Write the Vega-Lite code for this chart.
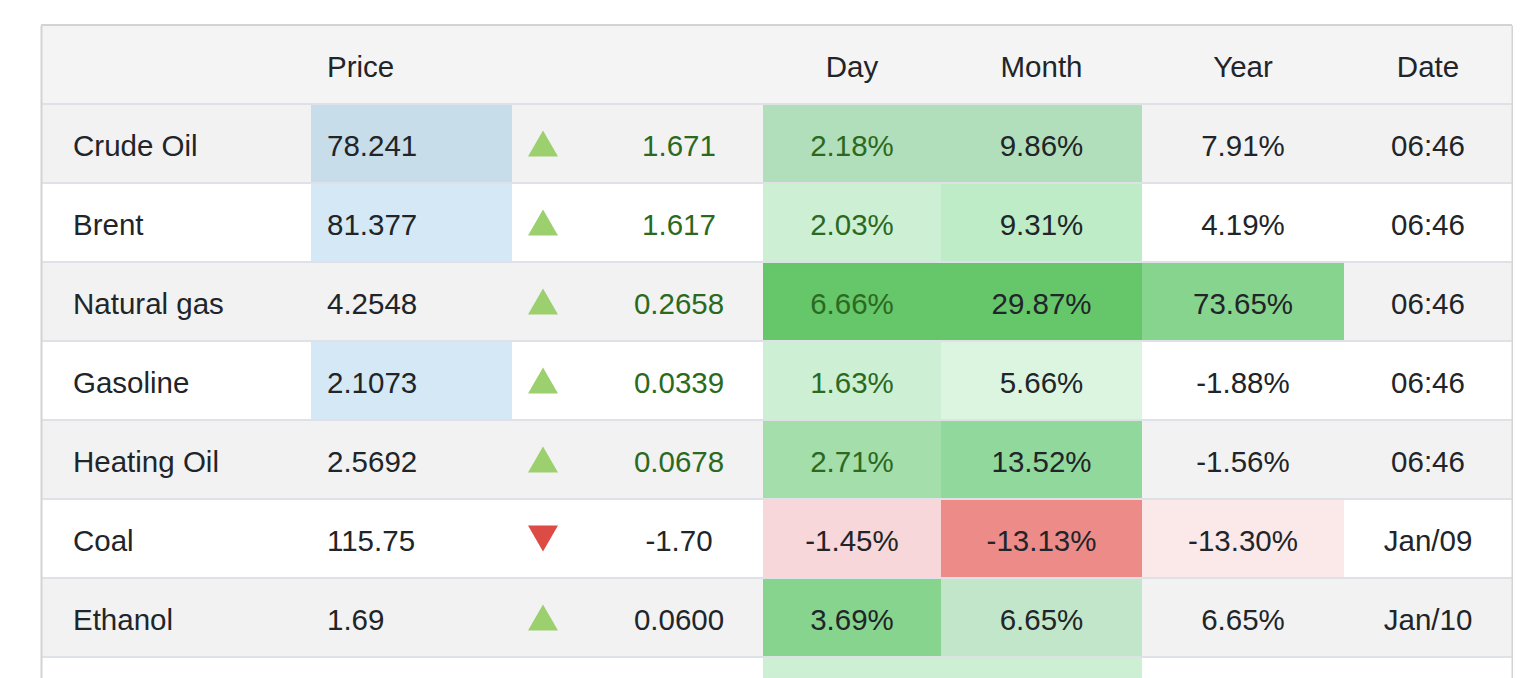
{
  "$schema": "https://vega.github.io/schema/vega-lite/v6.json",
  "background": "white",
  "padding": {"left": 40, "top": 24, "right": 0, "bottom": 0},
  "config": {"view": {"stroke": null}, "concat": {"spacing": 0}, "text": {"font": "Liberation Sans", "fontSize": 29.5, "baseline": "middle"}},
  "spacing": 0,
  "bounds": "flush",
  "datasets": {
    "t": [
      {"name": "", "price": "Price", "dir": null, "chg": "", "day": "Day", "month": "Month", "year": "Year", "date": "Date", "stripe": "hdr", "pS": "hdr", "dS": "hdr", "mS": "hdr", "yS": "hdr", "hl": "dk"},
      {"name": "Crude Oil", "price": "78.241", "dir": "up", "chg": "1.671", "day": "2.18%", "month": "9.86%", "year": "7.91%", "date": "06:46", "stripe": "g", "pS": "pi_g", "dS": "gA", "mS": "gA", "yS": "g", "hl": "up"},
      {"name": "Brent", "price": "81.377", "dir": "up", "chg": "1.617", "day": "2.03%", "month": "9.31%", "year": "4.19%", "date": "06:46", "stripe": "w", "pS": "pi_w", "dS": "gB", "mS": "gC", "yS": "w", "hl": "up"},
      {"name": "Natural gas", "price": "4.2548", "dir": "up", "chg": "0.2658", "day": "6.66%", "month": "29.87%", "year": "73.65%", "date": "06:46", "stripe": "g", "pS": "g", "dS": "gD", "mS": "gD", "yS": "gE", "hl": "up"},
      {"name": "Gasoline", "price": "2.1073", "dir": "up", "chg": "0.0339", "day": "1.63%", "month": "5.66%", "year": "-1.88%", "date": "06:46", "stripe": "w", "pS": "pi_w", "dS": "gB", "mS": "gF", "yS": "w", "hl": "up"},
      {"name": "Heating Oil", "price": "2.5692", "dir": "up", "chg": "0.0678", "day": "2.71%", "month": "13.52%", "year": "-1.56%", "date": "06:46", "stripe": "g", "pS": "g", "dS": "gG", "mS": "gH", "yS": "g", "hl": "up"},
      {"name": "Coal", "price": "115.75", "dir": "down", "chg": "-1.70", "day": "-1.45%", "month": "-13.13%", "year": "-13.30%", "date": "Jan/09", "stripe": "w", "pS": "w", "dS": "rA", "mS": "rB", "yS": "rC", "hl": "dk"},
      {"name": "Ethanol", "price": "1.69", "dir": "up", "chg": "0.0600", "day": "3.69%", "month": "6.65%", "year": "6.65%", "date": "Jan/10", "stripe": "g", "pS": "g", "dS": "gE", "mS": "gI", "yS": "g", "hl": "dk"}
    ]
  },
  "resolve": {"scale": {"y": "independent", "fill": "independent", "color": "independent", "shape": "independent"}},
  "hconcat": [
    {
      "width": 270, "height": 654, "data": {"name": "t"},
      "layer": [
        {"mark": {"type": "rect"}, "encoding": {
          "y": {"field": "name", "type": "nominal", "sort": null, "scale": {"domain": ["", "Crude Oil", "Brent", "Natural gas", "Gasoline", "Heating Oil", "Coal", "Ethanol"], "paddingInner": 0, "paddingOuter": 0.13924, "align": 0}, "axis": {"domain": true, "domainColor": "#d3d3d3", "domainWidth": 2, "labels": false, "ticks": false, "grid": false, "title": null}},
          "fill": {"field": "stripe", "type": "nominal", "scale": {"domain": ["hdr", "g", "w", "pi_g", "pi_w", "gA", "gB", "gC", "gD", "gE", "gF", "gG", "gH", "gI", "rA", "rB", "rC"], "range": ["#f4f4f4", "#f2f2f2", "#ffffff", "#c7dde9", "#d4e9f5", "#b2dfbb", "#cdf0d4", "#bdecc6", "#65c66a", "#87d48f", "#dcf5e1", "#a3deab", "#90d89b", "#c2e6c9", "#f7d7da", "#ed8b89", "#fbe9ea"]}, "legend": null}}},
        {"mark": {"type": "rule", "stroke": "#dee2e6", "strokeWidth": 2}, "encoding": {
          "y": {"field": "name", "type": "nominal", "sort": null, "bandPosition": 1, "scale": {"domain": ["", "Crude Oil", "Brent", "Natural gas", "Gasoline", "Heating Oil", "Coal", "Ethanol"], "paddingInner": 0, "paddingOuter": 0.13924, "align": 0}, "axis": {"domain": true, "domainColor": "#d3d3d3", "domainWidth": 2, "labels": false, "ticks": false, "grid": false, "title": null}}}},
        {"transform": [{"filter": "datum.name === ''"}], "mark": {"type": "rule", "stroke": "#d3d3d3", "strokeWidth": 2}, "encoding": {
          "y": {"field": "name", "type": "nominal", "sort": null, "bandPosition": 0, "scale": {"domain": ["", "Crude Oil", "Brent", "Natural gas", "Gasoline", "Heating Oil", "Coal", "Ethanol"], "paddingInner": 0, "paddingOuter": 0.13924, "align": 0}, "axis": {"domain": true, "domainColor": "#d3d3d3", "domainWidth": 2, "labels": false, "ticks": false, "grid": false, "title": null}}}},
        {"mark": {"type": "text", "align": "left", "dx": -103, "dy": 3, "fill": "#212529"}, "encoding": {
          "y": {"field": "name", "type": "nominal", "sort": null, "scale": {"domain": ["", "Crude Oil", "Brent", "Natural gas", "Gasoline", "Heating Oil", "Coal", "Ethanol"], "paddingInner": 0, "paddingOuter": 0.13924, "align": 0}, "axis": {"domain": true, "domainColor": "#d3d3d3", "domainWidth": 2, "labels": false, "ticks": false, "grid": false, "title": null}},
          "text": {"field": "name"}}}
      ]
    },
    {
      "width": 201, "height": 654, "data": {"name": "t"},
      "layer": [
        {"mark": {"type": "rect"}, "encoding": {
          "y": {"field": "name", "type": "nominal", "sort": null, "scale": {"domain": ["", "Crude Oil", "Brent", "Natural gas", "Gasoline", "Heating Oil", "Coal", "Ethanol"], "paddingInner": 0, "paddingOuter": 0.13924, "align": 0}, "axis": null},
          "fill": {"field": "pS", "type": "nominal", "scale": {"domain": ["hdr", "g", "w", "pi_g", "pi_w", "gA", "gB", "gC", "gD", "gE", "gF", "gG", "gH", "gI", "rA", "rB", "rC"], "range": ["#f4f4f4", "#f2f2f2", "#ffffff", "#c7dde9", "#d4e9f5", "#b2dfbb", "#cdf0d4", "#bdecc6", "#65c66a", "#87d48f", "#dcf5e1", "#a3deab", "#90d89b", "#c2e6c9", "#f7d7da", "#ed8b89", "#fbe9ea"]}, "legend": null}}},
        {"mark": {"type": "rule", "stroke": "#dee2e6", "strokeWidth": 2}, "encoding": {
          "y": {"field": "name", "type": "nominal", "sort": null, "bandPosition": 1, "scale": {"domain": ["", "Crude Oil", "Brent", "Natural gas", "Gasoline", "Heating Oil", "Coal", "Ethanol"], "paddingInner": 0, "paddingOuter": 0.13924, "align": 0}, "axis": null}}},
        {"transform": [{"filter": "datum.name === ''"}], "mark": {"type": "rule", "stroke": "#d3d3d3", "strokeWidth": 2}, "encoding": {
          "y": {"field": "name", "type": "nominal", "sort": null, "bandPosition": 0, "scale": {"domain": ["", "Crude Oil", "Brent", "Natural gas", "Gasoline", "Heating Oil", "Coal", "Ethanol"], "paddingInner": 0, "paddingOuter": 0.13924, "align": 0}, "axis": null}}},
        {"mark": {"type": "text", "align": "left", "dx": -84.5, "dy": 3, "fill": "#212529"}, "encoding": {
          "y": {"field": "name", "type": "nominal", "sort": null, "scale": {"domain": ["", "Crude Oil", "Brent", "Natural gas", "Gasoline", "Heating Oil", "Coal", "Ethanol"], "paddingInner": 0, "paddingOuter": 0.13924, "align": 0}, "axis": null},
          "text": {"field": "price"}}}
      ]
    },
    {
      "width": 62, "height": 654, "data": {"name": "t"},
      "layer": [
        {"mark": {"type": "rect"}, "encoding": {
          "y": {"field": "name", "type": "nominal", "sort": null, "scale": {"domain": ["", "Crude Oil", "Brent", "Natural gas", "Gasoline", "Heating Oil", "Coal", "Ethanol"], "paddingInner": 0, "paddingOuter": 0.13924, "align": 0}, "axis": null},
          "fill": {"field": "stripe", "type": "nominal", "scale": {"domain": ["hdr", "g", "w", "pi_g", "pi_w", "gA", "gB", "gC", "gD", "gE", "gF", "gG", "gH", "gI", "rA", "rB", "rC"], "range": ["#f4f4f4", "#f2f2f2", "#ffffff", "#c7dde9", "#d4e9f5", "#b2dfbb", "#cdf0d4", "#bdecc6", "#65c66a", "#87d48f", "#dcf5e1", "#a3deab", "#90d89b", "#c2e6c9", "#f7d7da", "#ed8b89", "#fbe9ea"]}, "legend": null}}},
        {"mark": {"type": "rule", "stroke": "#dee2e6", "strokeWidth": 2}, "encoding": {
          "y": {"field": "name", "type": "nominal", "sort": null, "bandPosition": 1, "scale": {"domain": ["", "Crude Oil", "Brent", "Natural gas", "Gasoline", "Heating Oil", "Coal", "Ethanol"], "paddingInner": 0, "paddingOuter": 0.13924, "align": 0}, "axis": null}}},
        {"transform": [{"filter": "datum.name === ''"}], "mark": {"type": "rule", "stroke": "#d3d3d3", "strokeWidth": 2}, "encoding": {
          "y": {"field": "name", "type": "nominal", "sort": null, "bandPosition": 0, "scale": {"domain": ["", "Crude Oil", "Brent", "Natural gas", "Gasoline", "Heating Oil", "Coal", "Ethanol"], "paddingInner": 0, "paddingOuter": 0.13924, "align": 0}, "axis": null}}},
        {"transform": [{"filter": "datum.dir != null"}], "mark": {"type": "point", "filled": true, "size": 900, "opacity": 1, "strokeWidth": 0}, "encoding": {
          "y": {"field": "name", "type": "nominal", "sort": null, "scale": {"domain": ["", "Crude Oil", "Brent", "Natural gas", "Gasoline", "Heating Oil", "Coal", "Ethanol"], "paddingInner": 0, "paddingOuter": 0.13924, "align": 0}, "axis": null},
          "shape": {"field": "dir", "type": "nominal", "scale": {"domain": ["up", "down"], "range": ["triangle-up", "triangle-down"]}, "legend": null},
          "color": {"field": "dir", "type": "nominal", "scale": {"domain": ["up", "down"], "range": ["#9ccf6e", "#dc4b44"]}, "legend": null}}}
      ]
    },
    {
      "width": 189, "height": 654, "data": {"name": "t"},
      "layer": [
        {"mark": {"type": "rect"}, "encoding": {
          "y": {"field": "name", "type": "nominal", "sort": null, "scale": {"domain": ["", "Crude Oil", "Brent", "Natural gas", "Gasoline", "Heating Oil", "Coal", "Ethanol"], "paddingInner": 0, "paddingOuter": 0.13924, "align": 0}, "axis": null},
          "fill": {"field": "stripe", "type": "nominal", "scale": {"domain": ["hdr", "g", "w", "pi_g", "pi_w", "gA", "gB", "gC", "gD", "gE", "gF", "gG", "gH", "gI", "rA", "rB", "rC"], "range": ["#f4f4f4", "#f2f2f2", "#ffffff", "#c7dde9", "#d4e9f5", "#b2dfbb", "#cdf0d4", "#bdecc6", "#65c66a", "#87d48f", "#dcf5e1", "#a3deab", "#90d89b", "#c2e6c9", "#f7d7da", "#ed8b89", "#fbe9ea"]}, "legend": null}}},
        {"mark": {"type": "rule", "stroke": "#dee2e6", "strokeWidth": 2}, "encoding": {
          "y": {"field": "name", "type": "nominal", "sort": null, "bandPosition": 1, "scale": {"domain": ["", "Crude Oil", "Brent", "Natural gas", "Gasoline", "Heating Oil", "Coal", "Ethanol"], "paddingInner": 0, "paddingOuter": 0.13924, "align": 0}, "axis": null}}},
        {"transform": [{"filter": "datum.name === ''"}], "mark": {"type": "rule", "stroke": "#d3d3d3", "strokeWidth": 2}, "encoding": {
          "y": {"field": "name", "type": "nominal", "sort": null, "bandPosition": 0, "scale": {"domain": ["", "Crude Oil", "Brent", "Natural gas", "Gasoline", "Heating Oil", "Coal", "Ethanol"], "paddingInner": 0, "paddingOuter": 0.13924, "align": 0}, "axis": null}}},
        {"mark": {"type": "text", "align": "center", "dx": 10.5, "dy": 3}, "encoding": {
          "y": {"field": "name", "type": "nominal", "sort": null, "scale": {"domain": ["", "Crude Oil", "Brent", "Natural gas", "Gasoline", "Heating Oil", "Coal", "Ethanol"], "paddingInner": 0, "paddingOuter": 0.13924, "align": 0}, "axis": null},
          "text": {"field": "chg"},
          "color": {"field": "hl", "type": "nominal", "scale": {"domain": ["up", "dk"], "range": ["#2b6a1e", "#212529"]}, "legend": null}}}
      ]
    },
    {
      "width": 178, "height": 654, "data": {"name": "t"}, "view": {"fill": "#cdf0d4", "stroke": null},
      "layer": [
        {"mark": {"type": "rect"}, "encoding": {
          "y": {"field": "name", "type": "nominal", "sort": null, "scale": {"domain": ["", "Crude Oil", "Brent", "Natural gas", "Gasoline", "Heating Oil", "Coal", "Ethanol"], "paddingInner": 0, "paddingOuter": 0.13924, "align": 0}, "axis": null},
          "fill": {"field": "dS", "type": "nominal", "scale": {"domain": ["hdr", "g", "w", "pi_g", "pi_w", "gA", "gB", "gC", "gD", "gE", "gF", "gG", "gH", "gI", "rA", "rB", "rC"], "range": ["#f4f4f4", "#f2f2f2", "#ffffff", "#c7dde9", "#d4e9f5", "#b2dfbb", "#cdf0d4", "#bdecc6", "#65c66a", "#87d48f", "#dcf5e1", "#a3deab", "#90d89b", "#c2e6c9", "#f7d7da", "#ed8b89", "#fbe9ea"]}, "legend": null}}},
        {"mark": {"type": "rule", "stroke": "#dee2e6", "strokeWidth": 2}, "encoding": {
          "y": {"field": "name", "type": "nominal", "sort": null, "bandPosition": 1, "scale": {"domain": ["", "Crude Oil", "Brent", "Natural gas", "Gasoline", "Heating Oil", "Coal", "Ethanol"], "paddingInner": 0, "paddingOuter": 0.13924, "align": 0}, "axis": null}}},
        {"transform": [{"filter": "datum.name === ''"}], "mark": {"type": "rule", "stroke": "#d3d3d3", "strokeWidth": 2}, "encoding": {
          "y": {"field": "name", "type": "nominal", "sort": null, "bandPosition": 0, "scale": {"domain": ["", "Crude Oil", "Brent", "Natural gas", "Gasoline", "Heating Oil", "Coal", "Ethanol"], "paddingInner": 0, "paddingOuter": 0.13924, "align": 0}, "axis": null}}},
        {"mark": {"type": "text", "align": "center", "dy": 3}, "encoding": {
          "y": {"field": "name", "type": "nominal", "sort": null, "scale": {"domain": ["", "Crude Oil", "Brent", "Natural gas", "Gasoline", "Heating Oil", "Coal", "Ethanol"], "paddingInner": 0, "paddingOuter": 0.13924, "align": 0}, "axis": null},
          "text": {"field": "day"},
          "color": {"field": "hl", "type": "nominal", "scale": {"domain": ["up", "dk"], "range": ["#2b6a1e", "#212529"]}, "legend": null}}}
      ]
    },
    {
      "width": 201, "height": 654, "data": {"name": "t"}, "view": {"fill": "#cdf0d4", "stroke": null},
      "layer": [
        {"mark": {"type": "rect"}, "encoding": {
          "y": {"field": "name", "type": "nominal", "sort": null, "scale": {"domain": ["", "Crude Oil", "Brent", "Natural gas", "Gasoline", "Heating Oil", "Coal", "Ethanol"], "paddingInner": 0, "paddingOuter": 0.13924, "align": 0}, "axis": null},
          "fill": {"field": "mS", "type": "nominal", "scale": {"domain": ["hdr", "g", "w", "pi_g", "pi_w", "gA", "gB", "gC", "gD", "gE", "gF", "gG", "gH", "gI", "rA", "rB", "rC"], "range": ["#f4f4f4", "#f2f2f2", "#ffffff", "#c7dde9", "#d4e9f5", "#b2dfbb", "#cdf0d4", "#bdecc6", "#65c66a", "#87d48f", "#dcf5e1", "#a3deab", "#90d89b", "#c2e6c9", "#f7d7da", "#ed8b89", "#fbe9ea"]}, "legend": null}}},
        {"mark": {"type": "rule", "stroke": "#dee2e6", "strokeWidth": 2}, "encoding": {
          "y": {"field": "name", "type": "nominal", "sort": null, "bandPosition": 1, "scale": {"domain": ["", "Crude Oil", "Brent", "Natural gas", "Gasoline", "Heating Oil", "Coal", "Ethanol"], "paddingInner": 0, "paddingOuter": 0.13924, "align": 0}, "axis": null}}},
        {"transform": [{"filter": "datum.name === ''"}], "mark": {"type": "rule", "stroke": "#d3d3d3", "strokeWidth": 2}, "encoding": {
          "y": {"field": "name", "type": "nominal", "sort": null, "bandPosition": 0, "scale": {"domain": ["", "Crude Oil", "Brent", "Natural gas", "Gasoline", "Heating Oil", "Coal", "Ethanol"], "paddingInner": 0, "paddingOuter": 0.13924, "align": 0}, "axis": null}}},
        {"mark": {"type": "text", "align": "center", "dy": 3, "fill": "#212529"}, "encoding": {
          "y": {"field": "name", "type": "nominal", "sort": null, "scale": {"domain": ["", "Crude Oil", "Brent", "Natural gas", "Gasoline", "Heating Oil", "Coal", "Ethanol"], "paddingInner": 0, "paddingOuter": 0.13924, "align": 0}, "axis": null},
          "text": {"field": "month"}}}
      ]
    },
    {
      "width": 202, "height": 654, "data": {"name": "t"},
      "layer": [
        {"mark": {"type": "rect"}, "encoding": {
          "y": {"field": "name", "type": "nominal", "sort": null, "scale": {"domain": ["", "Crude Oil", "Brent", "Natural gas", "Gasoline", "Heating Oil", "Coal", "Ethanol"], "paddingInner": 0, "paddingOuter": 0.13924, "align": 0}, "axis": null},
          "fill": {"field": "yS", "type": "nominal", "scale": {"domain": ["hdr", "g", "w", "pi_g", "pi_w", "gA", "gB", "gC", "gD", "gE", "gF", "gG", "gH", "gI", "rA", "rB", "rC"], "range": ["#f4f4f4", "#f2f2f2", "#ffffff", "#c7dde9", "#d4e9f5", "#b2dfbb", "#cdf0d4", "#bdecc6", "#65c66a", "#87d48f", "#dcf5e1", "#a3deab", "#90d89b", "#c2e6c9", "#f7d7da", "#ed8b89", "#fbe9ea"]}, "legend": null}}},
        {"mark": {"type": "rule", "stroke": "#dee2e6", "strokeWidth": 2}, "encoding": {
          "y": {"field": "name", "type": "nominal", "sort": null, "bandPosition": 1, "scale": {"domain": ["", "Crude Oil", "Brent", "Natural gas", "Gasoline", "Heating Oil", "Coal", "Ethanol"], "paddingInner": 0, "paddingOuter": 0.13924, "align": 0}, "axis": null}}},
        {"transform": [{"filter": "datum.name === ''"}], "mark": {"type": "rule", "stroke": "#d3d3d3", "strokeWidth": 2}, "encoding": {
          "y": {"field": "name", "type": "nominal", "sort": null, "bandPosition": 0, "scale": {"domain": ["", "Crude Oil", "Brent", "Natural gas", "Gasoline", "Heating Oil", "Coal", "Ethanol"], "paddingInner": 0, "paddingOuter": 0.13924, "align": 0}, "axis": null}}},
        {"mark": {"type": "text", "align": "center", "dy": 3, "fill": "#212529"}, "encoding": {
          "y": {"field": "name", "type": "nominal", "sort": null, "scale": {"domain": ["", "Crude Oil", "Brent", "Natural gas", "Gasoline", "Heating Oil", "Coal", "Ethanol"], "paddingInner": 0, "paddingOuter": 0.13924, "align": 0}, "axis": null},
          "text": {"field": "year"}}}
      ]
    },
    {
      "width": 168, "height": 654, "data": {"name": "t"},
      "layer": [
        {"mark": {"type": "rect"}, "encoding": {
          "y": {"field": "name", "type": "nominal", "sort": null, "scale": {"domain": ["", "Crude Oil", "Brent", "Natural gas", "Gasoline", "Heating Oil", "Coal", "Ethanol"], "paddingInner": 0, "paddingOuter": 0.13924, "align": 0}, "axis": {"orient": "right", "domain": true, "domainColor": "#d3d3d3", "domainWidth": 2, "labels": false, "ticks": false, "grid": false, "title": null}},
          "fill": {"field": "stripe", "type": "nominal", "scale": {"domain": ["hdr", "g", "w", "pi_g", "pi_w", "gA", "gB", "gC", "gD", "gE", "gF", "gG", "gH", "gI", "rA", "rB", "rC"], "range": ["#f4f4f4", "#f2f2f2", "#ffffff", "#c7dde9", "#d4e9f5", "#b2dfbb", "#cdf0d4", "#bdecc6", "#65c66a", "#87d48f", "#dcf5e1", "#a3deab", "#90d89b", "#c2e6c9", "#f7d7da", "#ed8b89", "#fbe9ea"]}, "legend": null}}},
        {"mark": {"type": "rule", "stroke": "#dee2e6", "strokeWidth": 2}, "encoding": {
          "y": {"field": "name", "type": "nominal", "sort": null, "bandPosition": 1, "scale": {"domain": ["", "Crude Oil", "Brent", "Natural gas", "Gasoline", "Heating Oil", "Coal", "Ethanol"], "paddingInner": 0, "paddingOuter": 0.13924, "align": 0}, "axis": {"orient": "right", "domain": true, "domainColor": "#d3d3d3", "domainWidth": 2, "labels": false, "ticks": false, "grid": false, "title": null}}}},
        {"transform": [{"filter": "datum.name === ''"}], "mark": {"type": "rule", "stroke": "#d3d3d3", "strokeWidth": 2}, "encoding": {
          "y": {"field": "name", "type": "nominal", "sort": null, "bandPosition": 0, "scale": {"domain": ["", "Crude Oil", "Brent", "Natural gas", "Gasoline", "Heating Oil", "Coal", "Ethanol"], "paddingInner": 0, "paddingOuter": 0.13924, "align": 0}, "axis": {"orient": "right", "domain": true, "domainColor": "#d3d3d3", "domainWidth": 2, "labels": false, "ticks": false, "grid": false, "title": null}}}},
        {"mark": {"type": "text", "align": "center", "dy": 3, "fill": "#212529"}, "encoding": {
          "y": {"field": "name", "type": "nominal", "sort": null, "scale": {"domain": ["", "Crude Oil", "Brent", "Natural gas", "Gasoline", "Heating Oil", "Coal", "Ethanol"], "paddingInner": 0, "paddingOuter": 0.13924, "align": 0}, "axis": {"orient": "right", "domain": true, "domainColor": "#d3d3d3", "domainWidth": 2, "labels": false, "ticks": false, "grid": false, "title": null}},
          "text": {"field": "date"}}}
      ]
    }
  ]
}
